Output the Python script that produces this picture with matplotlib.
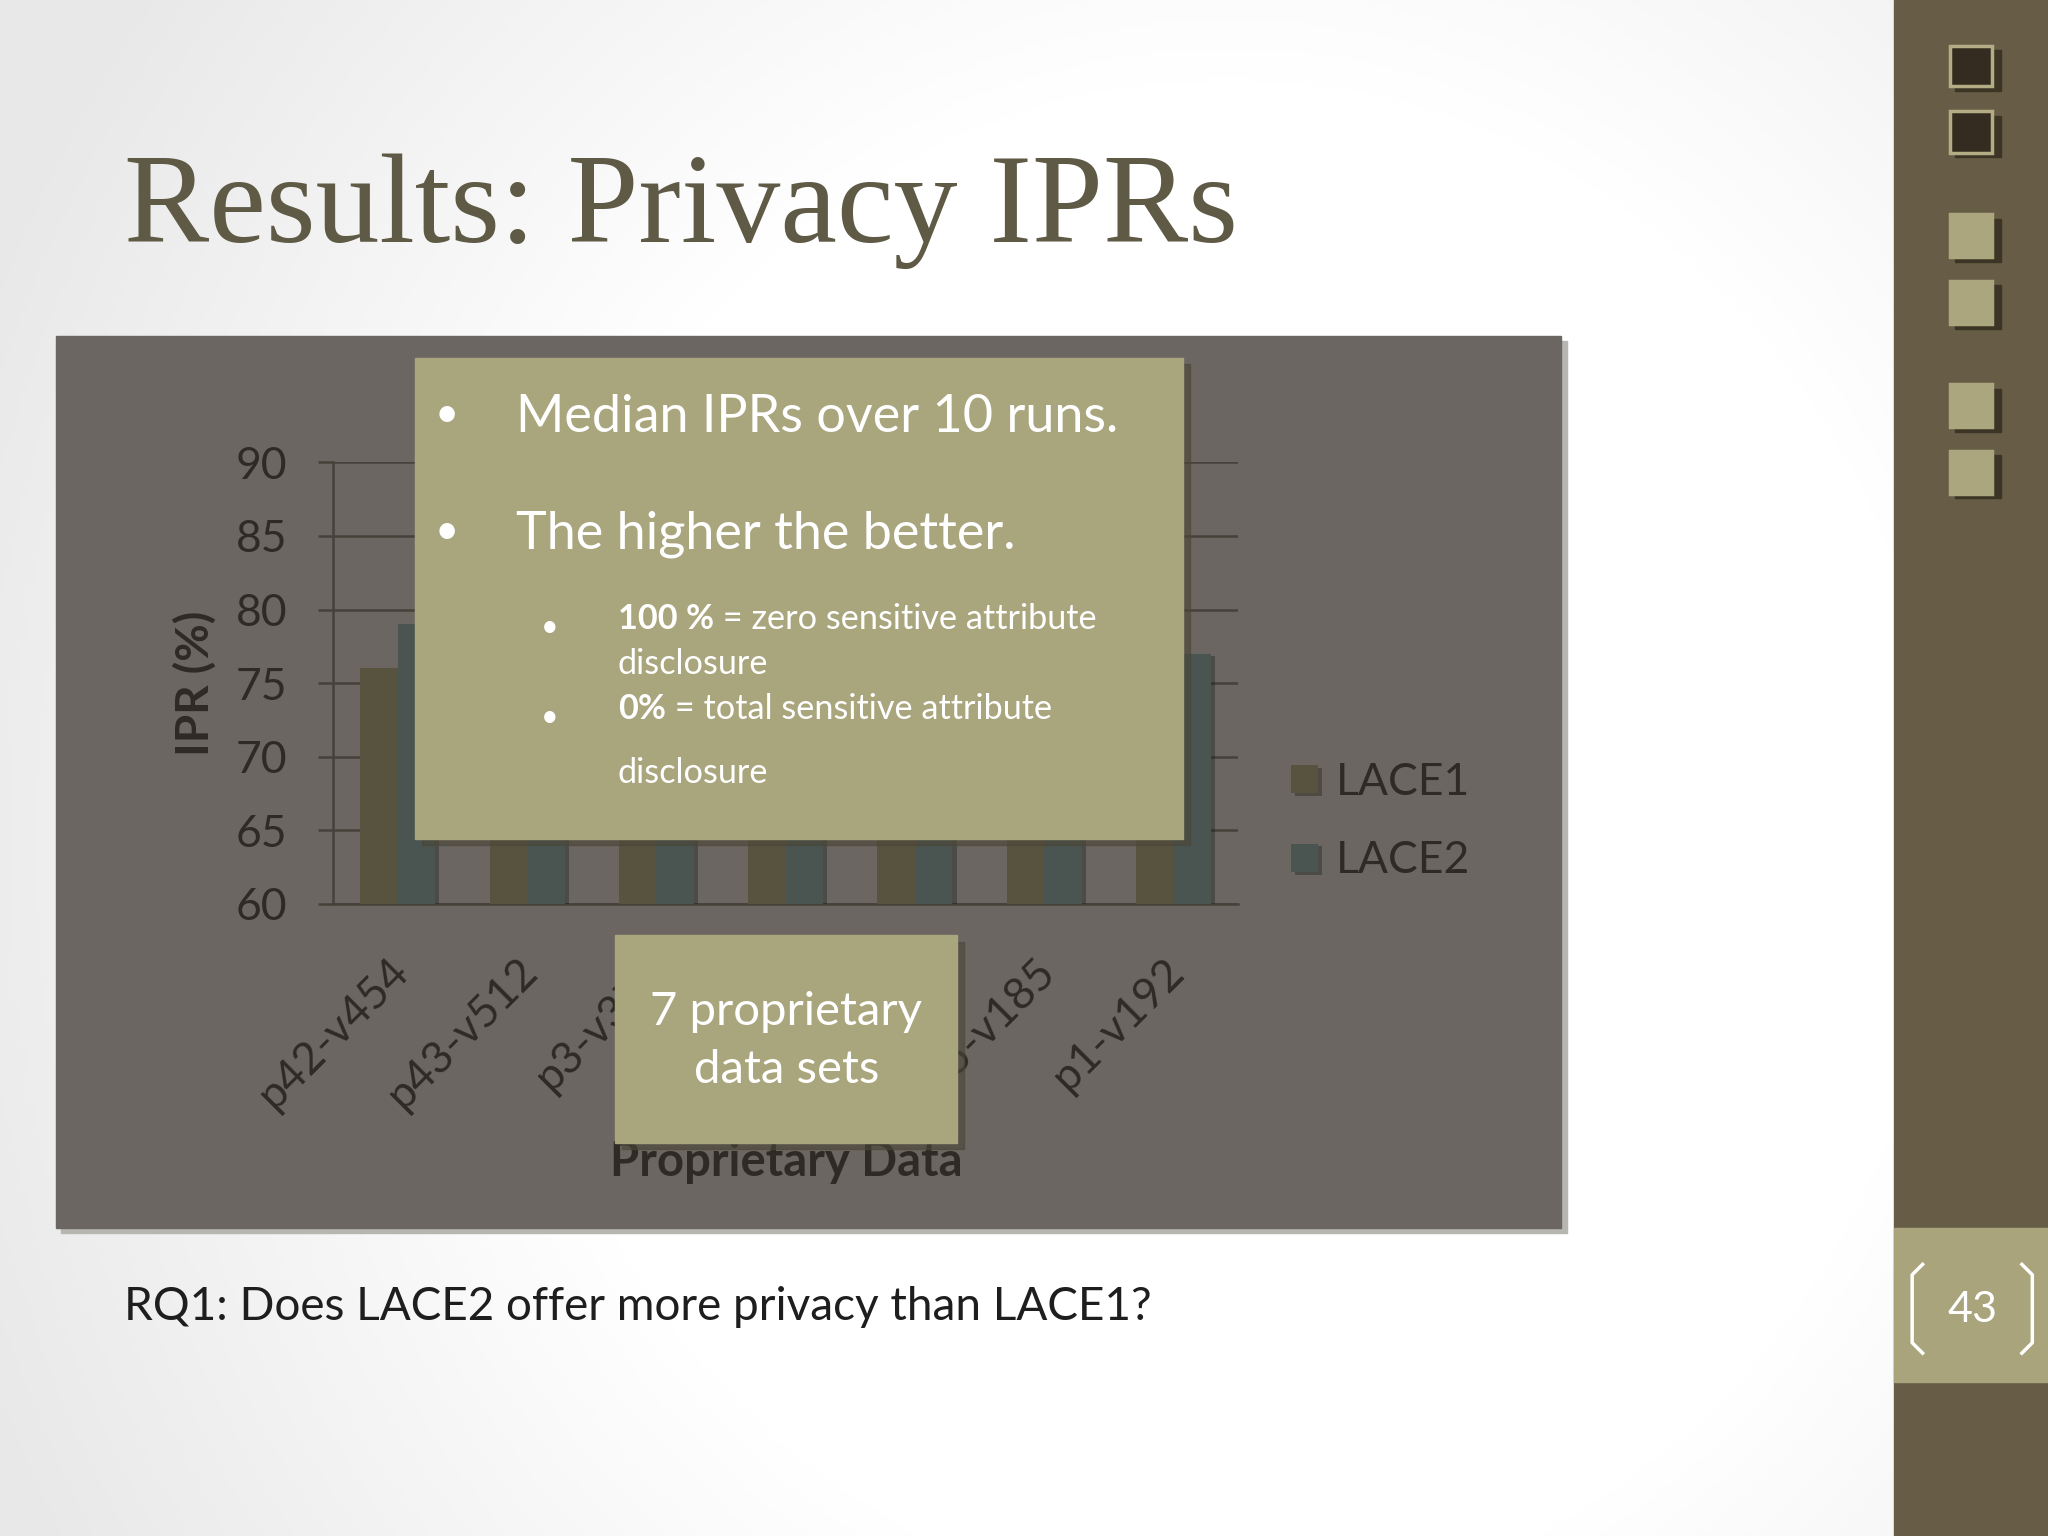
import numpy as np
import matplotlib
matplotlib.use("Agg")
import matplotlib.pyplot as plt
import matplotlib.transforms as mtransforms
from matplotlib.patches import Rectangle
from matplotlib.lines import Line2D
import matplotlib.patheffects as pe

# data (bars hidden behind the text box are estimates)
categories = ["p42-v454", "p43-v512", "p3-v370", "p2-v302", "p4-v249", "p5-v185", "p1-v192"]
lace1 = [76, 73, 74, 72, 75, 71, 72]
lace2 = [79, 77, 78, 76, 78, 75, 77]
series_names = ["LACE1", "LACE2"]
yticks = [60, 65, 70, 75, 80, 85, 90]

SANS = ["Lato", "DejaVu Sans"]
DARK = "#2e2b24"
C1 = "#58533e"
C2 = "#4a5450"
KHAKI = "#a9a57d"

W, H = 1568.0, 1176.0   # layout measured on a 1568x1176 view
def fx(x):
    return x / W
def fy(y):
    return 1 - y / H

fig = plt.figure(figsize=(20.48, 15.36), dpi=100)

# slide background: soft grey vignette
bg = fig.add_axes([0, 0, 1, 1], zorder=-10)
gx, gy = np.meshgrid(np.linspace(0, 1, 400), np.linspace(0, 1, 300))
r = np.sqrt(((gx - 0.6) / 0.7) ** 2 + ((gy - 0.55) / 1.0) ** 2)
v = 1 - 0.09 * np.clip((r - 0.5) / 0.45, 0, 1)
bg.imshow(np.dstack([v, v, v]), extent=[0, 1, 0, 1], aspect="auto")
bg.set_xlim(0, 1)
bg.set_ylim(0, 1)
bg.axis("off")

# right sidebar
fig.patches.append(Rectangle((fx(1450), 0), 1 - fx(1450), 1, transform=fig.transFigure,
                             color="#675d46", zorder=1))
fig.patches.append(Rectangle((fx(1450), fy(1058)), 1 - fx(1450), fy(940) - fy(1058),
                             transform=fig.transFigure, color="#a9a47c", zorder=2))
for y0, y1, dark in [(35, 66, True), (85, 117, True), (164, 197, False), (215, 248, False),
                     (294, 327, False), (345, 378, False)]:
    fig.patches.append(Rectangle((fx(1497), fy(y1) - 0.003), fx(1532) - fx(1497), fy(y0) - fy(y1),
                                 transform=fig.transFigure, color="#3c3526", zorder=2))
    fig.patches.append(Rectangle((fx(1493), fy(y1)), fx(1525) - fx(1493), fy(y0) - fy(y1),
                                 transform=fig.transFigure,
                                 facecolor="#342c20" if dark else "#aba67e",
                                 edgecolor="#b3ac84" if dark else "#aba67e", linewidth=2.5, zorder=3))
fig.text(fx(1510), fy(1003), "43", ha="center", va="center", color="white",
         fontsize=31, family=SANS, zorder=4)
for side in (-1, 1):
    xo = 1510 + side * 46
    xi = xo - side * 8
    fig.lines.append(Line2D([fx(xi), fx(xo), fx(xo), fx(xi)],
                            [fy(968), fy(976), fy(1028), fy(1036)],
                            transform=fig.transFigure, color="white", linewidth=2.5, zorder=4))

# slide title
fig.text(fx(95), fy(185), "Results: Privacy IPRs", ha="left", va="baseline",
         fontsize=92, family="Liberation Serif", color="#5f5a45")

# chart panel with shadow
fig.patches.append(Rectangle((fx(47), fy(944)), fx(1200) - fx(47), fy(261) - fy(944),
                             transform=fig.transFigure, color="#b8b6b0", zorder=1))
fig.patches.append(Rectangle((fx(43), fy(940)), fx(1195) - fx(43), fy(257) - fy(940),
                             transform=fig.transFigure, color="#6b6661", zorder=2))

# bar chart
ax = fig.add_axes([fx(255), fy(692), fx(948) - fx(255), fy(354) - fy(692)], zorder=3)
ax.patch.set_visible(False)
x = np.arange(len(categories))
bw = 0.29
shadow = [pe.SimplePatchShadow(offset=(3, -2), alpha=0.35), pe.Normal()]
b1 = ax.bar(x - bw / 2, np.array(lace1) - 60, bw, bottom=60, color=C1, label=series_names[0], zorder=3)
b2 = ax.bar(x + bw / 2, np.array(lace2) - 60, bw, bottom=60, color=C2, label=series_names[1], zorder=3)
for b in list(b1) + list(b2):
    b.set_path_effects(shadow)
ax.set_xlim(-0.5, len(categories) - 0.5)
ax.set_ylim(60, 90)
ax.set_yticks(yticks)
ax.yaxis.grid(True, color="#46423a", linewidth=1.8, zorder=0)
ax.set_axisbelow(True)
for s in ["top", "right"]:
    ax.spines[s].set_visible(False)
for s in ["left", "bottom"]:
    ax.spines[s].set_color("#46423a")
    ax.spines[s].set_linewidth(1.8)
ax.tick_params(axis="y", length=11, width=1.8, color="#46423a", labelsize=32,
               labelcolor=DARK, pad=22)
ax.tick_params(axis="x", length=0, pad=12)
ax.set_xticks(x)
ax.set_xticklabels(categories, rotation=45, ha="right", rotation_mode="anchor",
                   fontsize=32, color=DARK, family=SANS)
shift = mtransforms.ScaledTranslation(-10 / 100, -30 / 100, fig.dpi_scale_trans)
for lab in ax.get_xticklabels():
    lab.set_transform(lab.get_transform() + shift)
for lab in ax.get_yticklabels():
    lab.set_family(SANS)
ax.set_ylabel("IPR (%)", fontsize=33, fontweight="bold", color=DARK, family=SANS)
ax.yaxis.set_label_coords(-(255 - 166) / (948 - 255), 0.5)
fig.text(fx(602), fy(890), "Proprietary Data", ha="center", va="center", fontsize=34,
         fontweight="bold", color=DARK, family=SANS, zorder=3)
ax.legend(loc="center left", bbox_to_anchor=(fx(958), (fy(599) + fy(659)) / 2),
          bbox_transform=fig.transFigure, frameon=False, labelcolor=DARK,
          handlelength=0.6, handleheight=0.6, handletextpad=0.4, labelspacing=0.85,
          prop={"family": SANS, "size": 32})

# overlay text boxes
def box(x0, y0, x1, y1):
    fig.patches.append(Rectangle((fx(x0 + 5), fy(y1 + 5)), fx(x1) - fx(x0), fy(y0) - fy(y1),
                                 transform=fig.transFigure, color="#4b4638", alpha=0.6, zorder=5))
    fig.patches.append(Rectangle((fx(x0), fy(y1)), fx(x1) - fx(x0), fy(y0) - fy(y1),
                                 transform=fig.transFigure, color=KHAKI, zorder=6))

box(318, 274, 906, 642)
box(471, 716, 733, 875)

def t(xp, yp, s, size, weight="normal", **kw):
    return fig.text(fx(xp), fy(yp), s, ha=kw.pop("ha", "left"), va="center", fontsize=size,
                    fontweight=weight, color="white", family=SANS, zorder=7, **kw)

t(342, 318, "•", 30, ha="center")
t(395, 320, "Median IPRs over 10 runs.", 37.5)
t(342, 407, "•", 30, ha="center")
t(395, 409, "The higher the better.", 37.5)
t(421, 480, "•", 22, ha="center")
t(421, 549, "•", 22, ha="center")

renderer = fig.canvas.get_renderer()
for yp, bold, rest in [(474, "100 %", " = zero sensitive attribute"),
                       (543, "0%", " = total sensitive attribute")]:
    tb = t(473, yp, bold, 24.7, weight="bold")
    ext = tb.get_window_extent(renderer)
    fig.text(ext.x1 / fig.bbox.width, fy(yp), rest, ha="left", va="center", fontsize=24.7,
             color="white", family=SANS, zorder=7)
t(473, 508, "disclosure", 24.7)
t(473, 592, "disclosure", 24.7)

fig.text(fx(602), fy(797), "7 proprietary\ndata sets", ha="center", va="center", fontsize=34,
         color="white", family=SANS, zorder=7, linespacing=1.45)

# question under the chart
fig.text(fx(95), fy(1001), "RQ1: Does LACE2 offer more privacy than LACE1?", ha="left",
         va="center", fontsize=33, color="#1e1e1e", family=SANS)

fig.savefig("out.png", dpi=100)
